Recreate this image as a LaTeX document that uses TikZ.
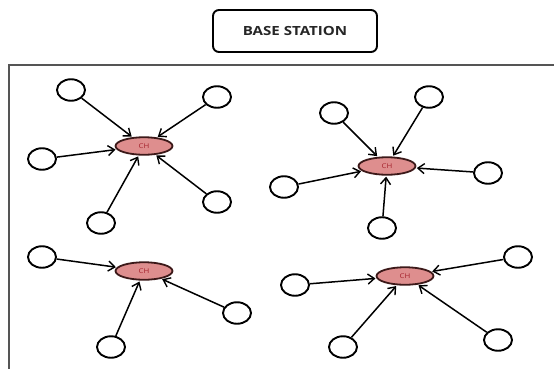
\documentclass[tikz,border=0pt]{standalone}
\usepackage{fontspec}
\setmainfont{Open Sans}
\usepackage{graphicx}
\usetikzlibrary{arrows.meta,shapes.geometric}
\definecolor{chpink}{RGB}{222,142,142}
\definecolor{chborder}{RGB}{60,25,25}
\definecolor{chtext}{RGB}{165,35,45}
\definecolor{framegray}{RGB}{85,85,85}

\begin{document}
\begin{tikzpicture}
[x=1pt, y=-1pt,
% STYLES
% The station style is used for the base station box at the top
station/.style={rectangle, rounded corners=6pt, draw, line width=1.9pt, minimum width=164pt, minimum height=42pt, text=black!85},
% The member style is used for the plain sensor nodes
member/.style={ellipse, draw, line width=1.9pt, minimum width=28pt, minimum height=21.5pt, inner sep=0pt},
% The head style is used for the cluster heads
head/.style={ellipse, draw=chborder, line width=1.8pt, fill=chpink, minimum width=57pt, minimum height=17.5pt, inner sep=0pt, text=chtext, font=\fontsize{6.5}{7}\selectfont},
% The link style is used for the arrows towards a cluster head
link/.style={line width=1.5pt, -{Straight Barb[length=6.5pt,width=10pt,line width=1.4pt]}, shorten >=1pt}]

\useasboundingbox (0,0) rectangle (554,368);

% Base station and field
\node [station] (bs) at (295,31) {\fontsize{12.6}{14}\selectfont\bfseries\scalebox{1.2}[1]{BASE STATION}};
\draw [framegray, line width=2.4pt] (9,65) rectangle (570,385);

% Cluster heads
\node [head] (ch1) at (144,146) {\scalebox{1.2}[1]{CH}};
\node [head] (ch2) at (387,166) {\scalebox{1.2}[1]{CH}};
\node [head] (ch3) at (144,271) {\scalebox{1.2}[1]{CH}};
\node [head] (ch4) at (405,276) {\scalebox{1.2}[1]{CH}};

% Cluster 1
\node [member] (a1) at (71,90) {};
\node [member] (a2) at (217,97) {};
\node [member] (a3) at (42,159) {};
\node [member] (a4) at (101,223) {};
\node [member] (a5) at (217,202) {};

% Cluster 2
\node [member] (b1) at (334,113) {};
\node [member] (b2) at (429,97) {};
\node [member] (b3) at (488,173) {};
\node [member] (b4) at (284,187) {};
\node [member] (b5) at (382,228) {};

% Cluster 3
\node [member] (c1) at (42,257) {};
\node [member] (c2) at (237,313) {};
\node [member] (c3) at (111,347) {};

% Cluster 4
\node [member] (d1) at (518,257) {};
\node [member] (d2) at (295,285) {};
\node [member] (d3) at (498,340) {};
\node [member] (d4) at (343,347) {};

% Draw the links to the cluster heads
\path[link]
(a1) edge (ch1)
(a2) edge (ch1)
(a3) edge (ch1)
(a4) edge (ch1)
(a5) edge (ch1);

\path[link]
(b1) edge (ch2)
(b2) edge (ch2)
(b3) edge (ch2)
(b4) edge (ch2)
(b5) edge (ch2);

\path[link]
(c1) edge (ch3)
(c2) edge (ch3)
(c3) edge (ch3);

\path[link]
(d1) edge (ch4)
(d2) edge (ch4)
(d3) edge (ch4)
(d4) edge (ch4);

\end{tikzpicture}
\end{document}
